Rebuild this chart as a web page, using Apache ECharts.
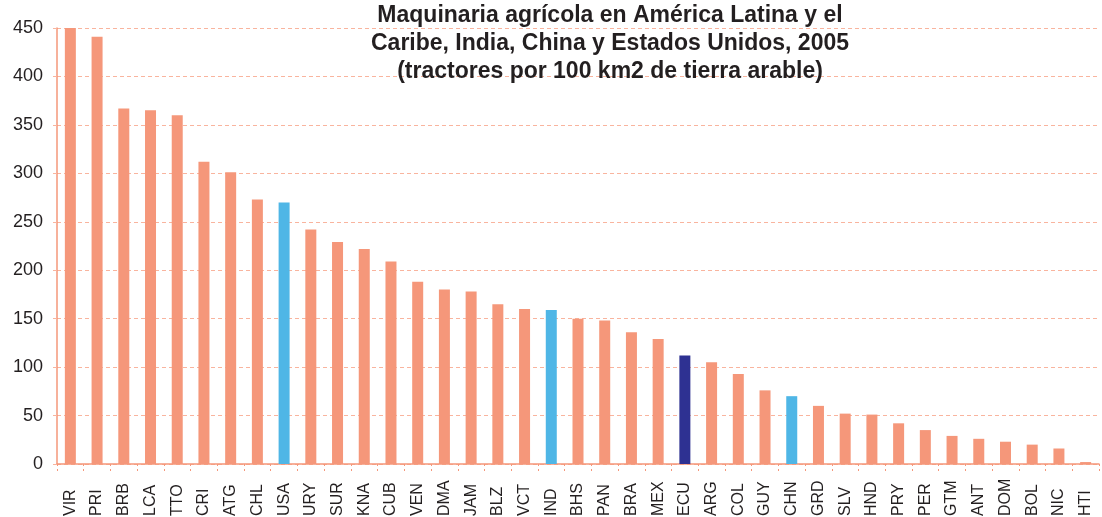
<!DOCTYPE html>
<html>
<head>
<meta charset="utf-8">
<script src="https://cdn.jsdelivr.net/npm/echarts@6/dist/echarts.min.js"></script>
<style>
  html, body { margin: 0; padding: 0; background: #fff; }
  #chart { width: 1102px; height: 517px; }
</style>
</head>
<body>
<div id="chart"></div>
<script>
// datos
const countries = ['VIR', 'PRI', 'BRB', 'LCA', 'TTO', 'CRI', 'ATG', 'CHL', 'USA', 'URY',
  'SUR', 'KNA', 'CUB', 'VEN', 'DMA', 'JAM', 'BLZ', 'VCT', 'IND', 'BHS',
  'PAN', 'BRA', 'MEX', 'ECU', 'ARG', 'COL', 'GUY', 'CHN', 'GRD', 'SLV',
  'HND', 'PRY', 'PER', 'GTM', 'ANT', 'DOM', 'BOL', 'NIC', 'HTI'];
const tractors = [450, 441, 367, 365, 360, 312, 301, 273, 270, 242,
  229, 222, 209, 188, 180, 178, 165, 160, 159, 150,
  148, 136, 129, 112, 105, 93, 76, 70, 60, 52,
  51, 42, 35, 29, 26, 23, 20, 16, 2];
const highlightBlue = ['USA', 'IND', 'CHN'];
const highlightNavy = ['ECU'];
const yTicks = { min: 0, max: 450, step: 50 };

const SALMON = '#F5977A';
const BLUE = '#4FB6E6';
const NAVY = '#2E3192';
const TEXT = '#231F20';
const FONT = "'Liberation Sans', Arial, sans-serif";

const chart = echarts.init(document.getElementById('chart'));

const barColor = (name) => {
  if (highlightNavy.includes(name)) return NAVY;
  if (highlightBlue.includes(name)) return BLUE;
  return SALMON;
};

chart.setOption({
  animation: false,
  title: {
    text: 'Maquinaria agrícola en América Latina y el\nCaribe, India, China y Estados Unidos, 2005\n(tractores por 100 km2 de tierra arable)',
    left: 605,
    top: -3,
    textAlign: 'center',
    textStyle: {
      fontFamily: FONT,
      fontSize: 23,
      fontWeight: 'bold',
      color: TEXT,
      lineHeight: 28,
      align: 'center'
    }
  },
  grid: {
    left: 57,
    right: 3,
    top: 28,
    bottom: 53,
    outerBoundsMode: 'none'
  },
  xAxis: {
    type: 'category',
    data: countries,
    axisLine: { lineStyle: { color: SALMON, width: 1.5 } },
    axisTick: {
      show: true,
      length: 8,
      lineStyle: { color: SALMON, type: [2, 3] }
    },
    axisLabel: {
      rotate: 90,
      interval: 0,
      margin: 52,
      align: 'left',
      verticalAlign: 'middle',
      fontFamily: FONT,
      fontSize: 16,
      color: TEXT
    }
  },
  yAxis: {
    type: 'value',
    min: yTicks.min,
    max: yTicks.max,
    interval: yTicks.step,
    axisLine: { show: true, lineStyle: { color: SALMON, width: 1.5 } },
    axisTick: {
      show: true,
      length: 7,
      lineStyle: { color: '#F9B49E', type: [4, 3] }
    },
    axisLabel: {
      margin: 14,
      fontFamily: FONT,
      fontSize: 18,
      color: TEXT
    },
    splitLine: {
      show: true,
      lineStyle: { color: '#F9B49E', type: [4, 3], width: 1 }
    }
  },
  series: [{
    type: 'bar',
    barWidth: 11,
    data: tractors.map((v, i) => ({
      value: v,
      itemStyle: { color: barColor(countries[i]) }
    }))
  }]
});
</script>
</body>
</html>
